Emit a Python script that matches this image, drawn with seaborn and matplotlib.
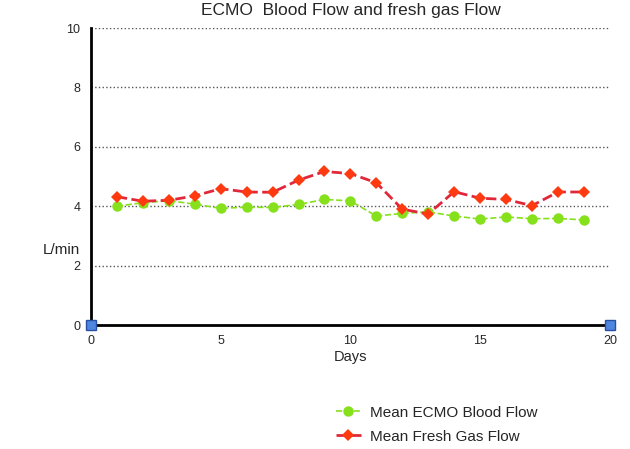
# ECMO blood flow vs fresh gas flow, line chart
import matplotlib
matplotlib.use("Agg")
from matplotlib import pyplot as plt
import seaborn as sns

days = list(range(1, 20))
blood_flow = [4.00, 4.12, 4.19, 4.07, 3.93, 3.97, 3.96, 4.06, 4.23, 4.18,
              3.67, 3.76, 3.81, 3.67, 3.57, 3.64, 3.58, 3.59, 3.54]
gas_flow = [4.32, 4.17, 4.20, 4.35, 4.59, 4.48, 4.47, 4.88, 5.17, 5.10,
            4.79, 3.90, 3.74, 4.49, 4.27, 4.23, 4.02, 4.48, 4.48]
end_x = [0, 20]
end_y = [0, 0]

sns.set_style("white")
plt.rcParams['font.family'] = ['Liberation Sans', 'DejaVu Sans']

fig = plt.figure(figsize=(6.3, 4.49), dpi=100)
ax = fig.add_axes([0.1444, 0.276, 0.8236, 0.6616])

# линии
sns.lineplot(x=days, y=blood_flow, ax=ax, color='#86e01c', ls='--', lw=1.2,
             marker='o', markersize=7.5, markeredgewidth=0,
             label='Mean ECMO Blood Flow')
sns.lineplot(x=days, y=gas_flow, ax=ax, color='#e0283a', ls='--', lw=2,
             marker='D', markersize=6.5, markerfacecolor='#ff3a10',
             markeredgewidth=0, label='Mean Fresh Gas Flow')
ax.plot(end_x, end_y, ls='none', marker='s', markersize=7,
        markerfacecolor='#4f86e0', markeredgecolor='#2850a0', clip_on=False, zorder=5)

ax.set_xlim(0, 20)
ax.set_ylim(0, 10)
ax.set_xticks([0, 5, 10, 15, 20])
ax.set_yticks([0, 2, 4, 6, 8, 10])
ax.yaxis.grid(True, ls=':', color='#555555', lw=1)
ax.xaxis.grid(False)
for s in ['top', 'right']:
    ax.spines[s].set_visible(False)
for s in ['left', 'bottom']:
    ax.spines[s].set_linewidth(2)
    ax.spines[s].set_color('black')
ax.tick_params(axis='both', direction='out', length=4, width=2, labelsize=9)

ax.set_xlabel('Days', fontsize=10.5, labelpad=2)
ax.set_ylabel('L/min', fontsize=11, rotation=0)
ax.yaxis.set_label_coords(-0.058, 0.253)
ax.yaxis.label.set_va('center')
fig.text(0.557, 0.976, 'ECMO  Blood Flow and fresh gas Flow', ha='center',
         va='center', fontsize=12.5)

ax.legend(loc='center', bbox_to_anchor=(0.667, -0.335), frameon=False,
          fontsize=11, handlelength=1.6, handletextpad=0.65, labelspacing=0.65)

plt.savefig('out.png', dpi=100)
